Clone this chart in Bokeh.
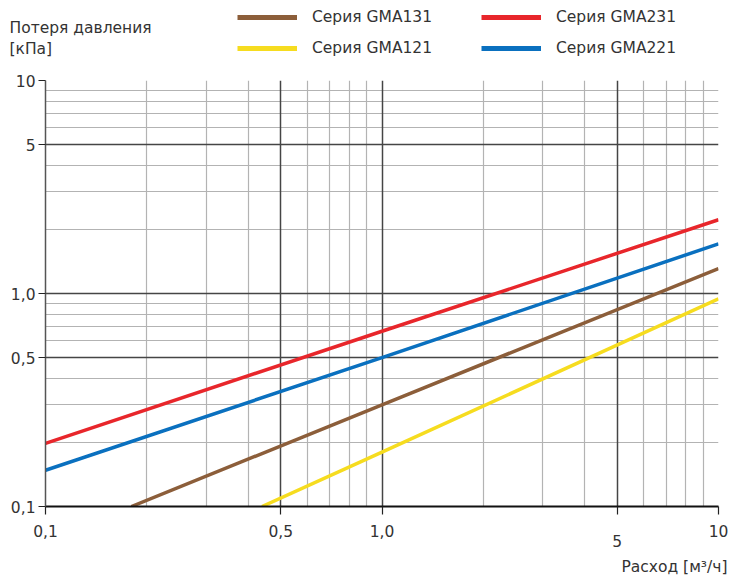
from bokeh.plotting import figure
from bokeh.layouts import column
from bokeh.models import (Range1d, FixedTicker, LogAxis, LogScale, Grid, Legend, LegendItem, Label, Title)
from bokeh.embed import file_html
from bokeh.resources import INLINE

# ---- data ----
gma131_x = [0.18, 1.0, 10.0]
gma131_y = [0.1, 0.30, 1.31]
gma121_x = [0.44, 1.0, 10.0]
gma121_y = [0.1, 0.18, 0.944]
gma231_x = [0.1, 1.0, 10.0]
gma231_y = [0.198, 0.665, 2.22]
gma221_x = [0.1, 1.0, 10.0]
gma221_y = [0.148, 0.5, 1.71]

# legend order (filled column by column)
series_names = ["Серия GMA131", "Серия GMA121", "Серия GMA231", "Серия GMA221"]
series_colors = ["#8c5e3a", "#f6dc1f", "#e8262b", "#0a70bf"]

x_ticks = [0.1, 0.5, 1.0, 5.0, 10.0]
x_tick_labels = {0.1: "0,1", 0.5: "0,5", 1.0: "1,0", 5.0: " ", 10.0: "10"}
x_low_ticks = [5.0]
x_low_labels = {5.0: "5"}
y_ticks = [0.1, 0.5, 1.0, 5.0, 10.0]
y_tick_labels = {0.1: "0,1", 0.5: "0,5", 1.0: "1,0", 5.0: "5", 10.0: "10"}

major_grid = [0.5, 1.0, 5.0]
x_minor_grid = [0.2, 0.3, 0.4, 0.6, 0.7, 0.8, 0.9, 2, 3, 4, 6, 7, 8, 9, 10]
y_minor_grid = [0.2, 0.3, 0.4, 0.6, 0.7, 0.8, 0.9, 2, 3, 4, 6, 7, 8, 9]
top_grid = [10.0]

y_title_lines = ["Потеря давления", "[кПа]"]
x_title = "Расход [м³/ч]"

FONT = "DejaVu Sans"
FS = "15.5px"
TXT = "#333333"

W = 729
HH = 68            # header height
H = 513            # main figure height
FL, FR, FT, FB = 45, 718, 12, 438   # frame edges in main-figure coords

# ---------------- header (legend + y title) ----------------
h = figure(width=W, height=HH, x_range=Range1d(0, W), y_range=Range1d(0, HH),
           x_axis_type=None, y_axis_type=None, output_backend="svg", toolbar_location=None,
           min_border=0)
h.frame_align = False
h.outline_line_color = None
h.xgrid.visible = False
h.ygrid.visible = False

nan = float("nan")
dummies = [h.line(x=[nan], y=[nan], line_color=c, line_width=5) for c in series_colors]
items = [LegendItem(label=n, renderers=[r]) for n, r in zip(series_names, dummies)]
leg = Legend(items=items, ncols=2, location=(237, 11),
             glyph_width=60, glyph_height=18, label_standoff=15, label_width=156,
             spacing=13, padding=0, margin=0,
             border_line_color=None, background_fill_color=None, background_fill_alpha=0,
             label_text_font=FONT, label_text_font_size=FS, label_text_color=TXT,
             label_text_baseline="middle")
h.add_layout(leg, "center")

for i, t in enumerate(y_title_lines):
    h.add_layout(Label(x=9, y=41 - i * 21, text=t,
                       text_font=FONT, text_font_size=FS, text_color=TXT,
                       text_baseline="middle", text_align="left"))

# ---------------- main chart ----------------
p = figure(width=W, height=H, x_axis_type=None, y_axis_type=None,
           x_range=Range1d(0.1, 10), y_range=Range1d(0.1, 10),
           output_backend="svg", toolbar_location=None,
           min_border_left=FL, min_border_right=W - FR,
           min_border_top=FT, min_border_bottom=H - FB)
p.frame_align = False
p.x_scale = LogScale()
p.y_scale = LogScale()
p.outline_line_color = None

for dim, ticks, col, w in [(0, x_minor_grid, "#b3b3b3", 1.2), (1, y_minor_grid, "#b3b3b3", 1.2),
                           (0, major_grid, "#454545", 1.5), (1, major_grid, "#454545", 1.5),
                           (1, top_grid, "#1a1a1a", 2.2)]:
    p.add_layout(Grid(dimension=dim, ticker=FixedTicker(ticks=ticks),
                      grid_line_color=col, grid_line_width=w))

xa = LogAxis(ticker=FixedTicker(ticks=x_ticks), major_label_overrides=x_tick_labels)
xa.axis_line_color = "#111111"; xa.axis_line_width = 1.8
xa.major_tick_out = 8; xa.major_tick_in = 0; xa.major_tick_line_color = "#222222"; xa.major_tick_line_width = 1.2
xa.minor_tick_line_color = None
xa.major_label_standoff = 8
xa.major_label_text_font = FONT; xa.major_label_text_font_size = FS; xa.major_label_text_color = TXT
p.add_layout(xa, "below")

xa2 = LogAxis(ticker=FixedTicker(ticks=x_low_ticks), major_label_overrides=x_low_labels)
xa2.axis_line_color = None; xa2.major_tick_line_color = None; xa2.minor_tick_line_color = None
xa2.major_tick_out = 0; xa2.major_tick_in = 0
xa2.major_label_standoff = -9
xa2.major_label_text_font = FONT; xa2.major_label_text_font_size = FS; xa2.major_label_text_color = TXT
p.add_layout(xa2, "below")

ya = LogAxis(ticker=FixedTicker(ticks=y_ticks), major_label_overrides=y_tick_labels)
ya.axis_line_color = "#555555"; ya.axis_line_width = 1.5
ya.major_tick_out = 7; ya.major_tick_in = 0; ya.major_tick_line_color = "#222222"; ya.major_tick_line_width = 1.2
ya.minor_tick_line_color = None
ya.major_label_standoff = 3
ya.major_label_text_font = FONT; ya.major_label_text_font_size = FS; ya.major_label_text_color = TXT
p.add_layout(ya, "left")

p.add_layout(Title(text=x_title, align="right", offset=-9, standoff=12,
                   text_font=FONT, text_font_size=FS, text_font_style="normal",
                   text_color=TXT), "below")

p.line(gma131_x, gma131_y, line_color="#8c5e3a", line_width=3.5)
p.line(gma231_x, gma231_y, line_color="#e8262b", line_width=3.5)
p.line(gma121_x, gma121_y, line_color="#f6dc1f", line_width=3.5)
p.line(gma221_x, gma221_y, line_color="#0a70bf", line_width=3.5)

layout = column(h, p, spacing=0)
open("out.html", "w").write(file_html(layout, INLINE))
